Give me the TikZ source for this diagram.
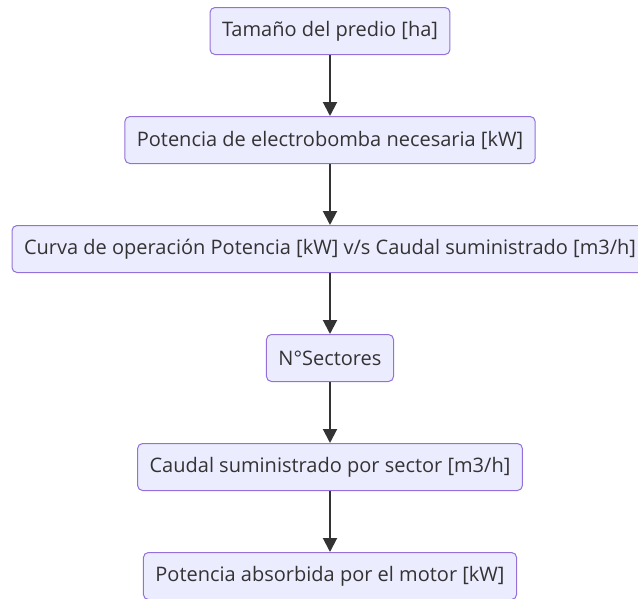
\documentclass[tikz,border=0pt]{standalone}
\usepackage{fontspec}
\setmainfont{Open Sans}
\usepackage{xcolor}
\usetikzlibrary{arrows.meta,positioning}

\definecolor{boxfill}{HTML}{ECECFF}
\definecolor{boxline}{HTML}{9370DB}
\definecolor{txtgray}{HTML}{333333}

\begin{document}
\begin{tikzpicture}[
  x=1pt, y=1pt,
  node distance=61pt,
  box/.style={draw=boxline, line width=1pt, rounded corners=5pt, fill=boxfill, align=center, minimum height=47pt, inner xsep=12pt, text=txtgray, font=\fontsize{20}{24}\selectfont},
  arr/.style={draw=txtgray, line width=2pt, -{Triangle[length=14pt,width=14pt]}}
]
\useasboundingbox (0,0) rectangle (638,-598);

\node[box] (predio) at (330,-31) {Tamaño del predio [ha]};
\node[box, below=of predio] (potencia) {Potencia de electrobomba necesaria [kW]};
\node[box, below=of potencia] (curva) {Curva de operación Potencia [kW] v/s Caudal suministrado [m3/h]};
\node[box, below=of curva] (sectores) {N°Sectores};
\node[box, below=of sectores] (caudal) {Caudal suministrado por sector [m3/h]};
\node[box, below=of caudal] (motor) {Potencia absorbida por el motor [kW]};

\draw[arr] (predio) -- (potencia);
\draw[arr] (potencia) -- (curva);
\draw[arr] (curva) -- (sectores);
\draw[arr] (sectores) -- (caudal);
\draw[arr] (caudal) -- (motor);
\end{tikzpicture}
\end{document}
